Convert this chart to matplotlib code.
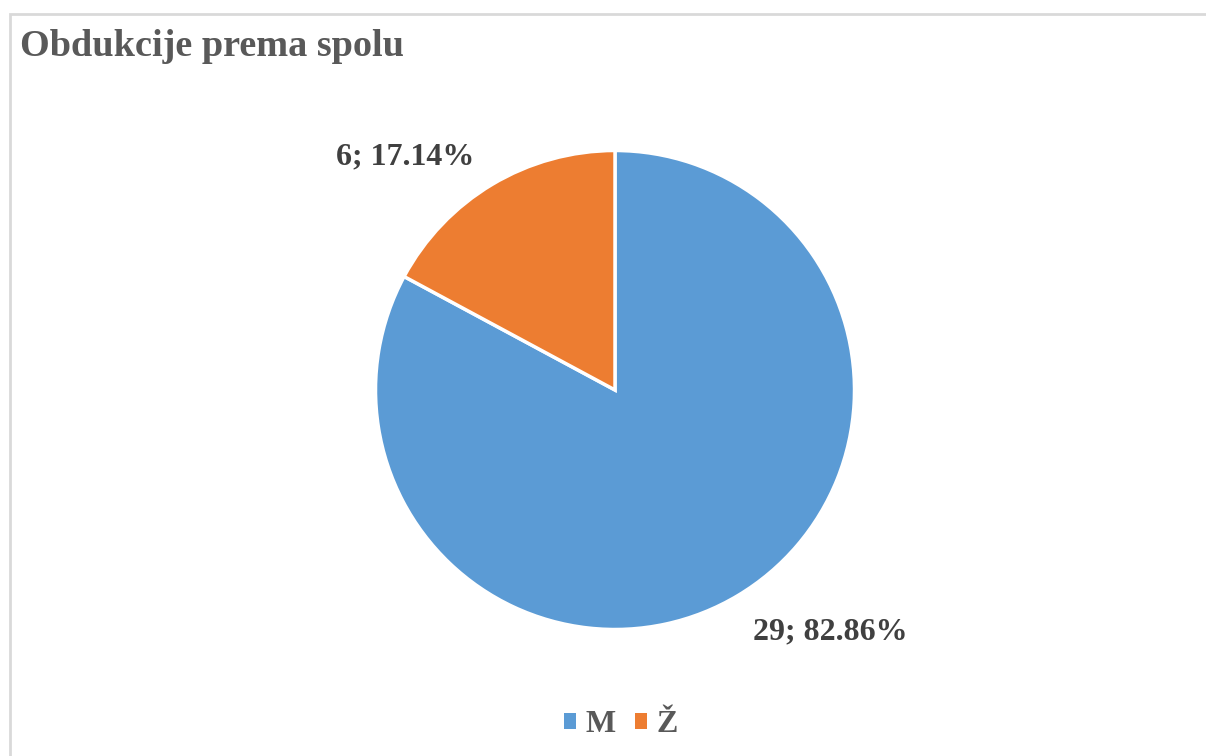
import matplotlib.pyplot as plt
from matplotlib.patches import Rectangle, Patch

# data
labels = ["M", "Ž"]
counts = [29, 6]
pcts = [82.86, 17.14]
colors = ["#5B9BD5", "#ED7D31"]

W, H = 1206, 756
fig = plt.figure(figsize=(W / 100, H / 100), dpi=100)
plt.rcParams["font.family"] = ["Liberation Serif", "DejaVu Serif"]

# chart area border (only top/left visible in the crop)
fig.patches.append(Rectangle((10 / W, -0.1), 1.2, (H - 13.5) / H + 0.1,
                             transform=fig.transFigure, fill=False,
                             edgecolor="#D9D9D9", linewidth=2))

fig.text(20 / W, 1 - 47 / H, "Obdukcije prema spolu", fontsize=27.5, fontweight="bold",
         color="#595959", va="center", ha="left")

cx, cy, r = 615, 390, 239.5
ax = fig.add_axes([(cx - r) / W, (H - cy - r) / H, 2 * r / W, 2 * r / H])
ax.pie(counts, colors=colors, startangle=90, counterclock=False,
       wedgeprops=dict(edgecolor="white", linewidth=2.5))
ax.set_xlim(-1, 1)
ax.set_ylim(-1, 1)
ax.set_aspect("equal")
ax.axis("off")

lab_pos = [(830, 632), (405, 157)]
for (x, y), c, p in zip(lab_pos, counts, pcts):
    fig.text(x / W, 1 - y / H, f"{c}; {p:.2f}%", fontsize=23, fontweight="bold",
             color="#404040", ha="center", va="center")

handles = [Patch(facecolor=col, edgecolor="none") for col in colors]
leg = fig.legend(handles, labels, loc="center", bbox_to_anchor=(621 / W, 1 - 725 / H),
                 ncol=2, frameon=False, handlelength=0.38, handleheight=0.38,
                 handletextpad=0.3, columnspacing=0.6,
                 prop=dict(family="Liberation Serif", weight="bold", size=23))
for t in leg.get_texts():
    t.set_color("#595959")

fig.savefig("out.png", dpi=100)
